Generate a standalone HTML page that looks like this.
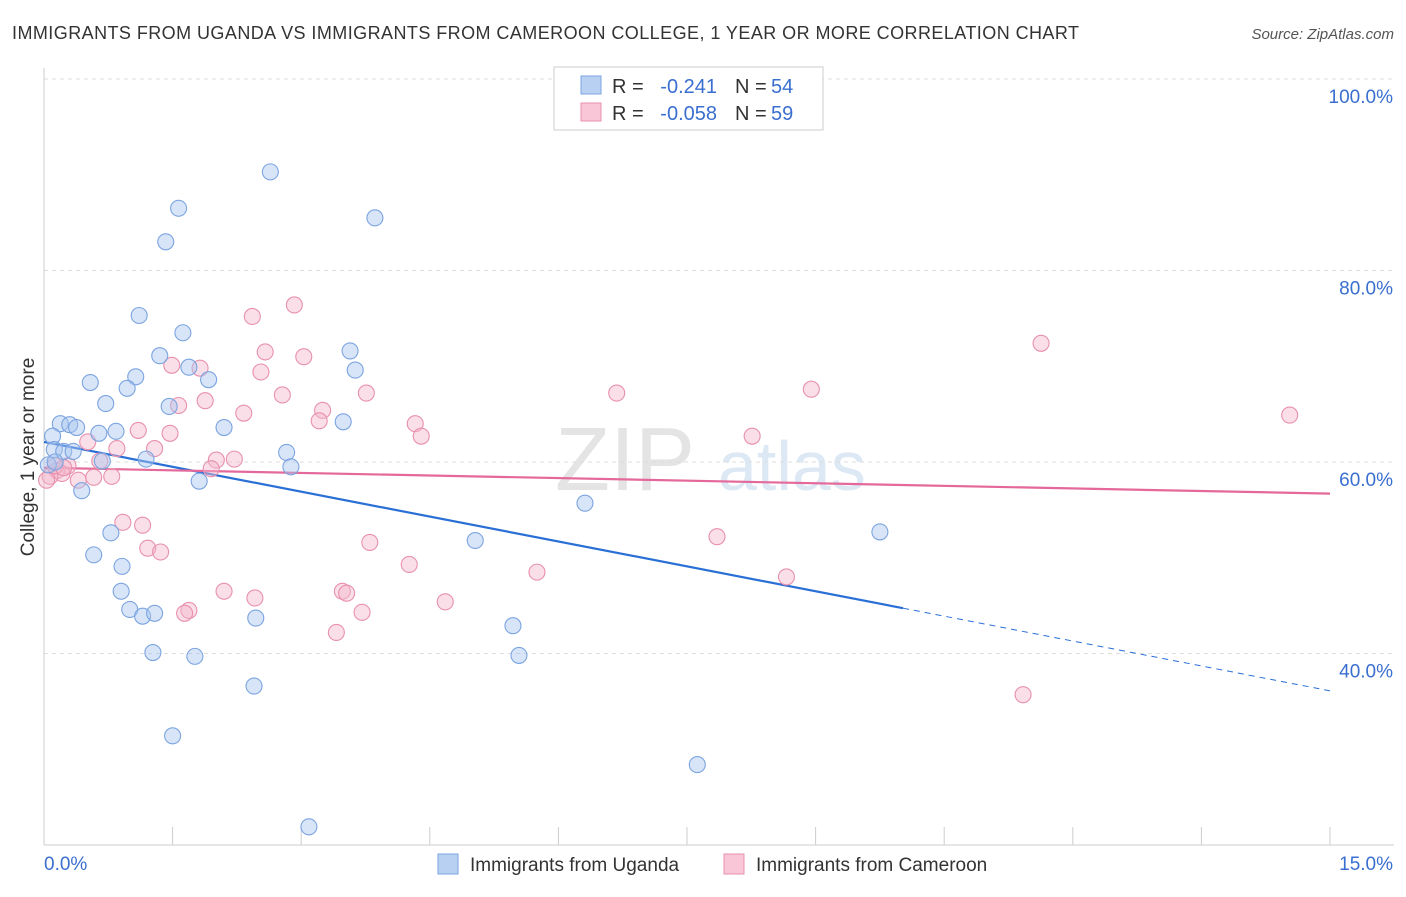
<!DOCTYPE html>
<html><head><meta charset="utf-8">
<style>
body{margin:0;background:#fff;font-family:"Liberation Sans",sans-serif;}
svg text{font-family:"Liberation Sans",sans-serif;}
</style></head>
<body>
<svg id="chart" width="1406" height="892" xmlns="http://www.w3.org/2000/svg">
<text x="12" y="39" font-size="18" fill="#333" textLength="1067" lengthAdjust="spacing">IMMIGRANTS FROM UGANDA VS IMMIGRANTS FROM CAMEROON COLLEGE, 1 YEAR OR MORE CORRELATION CHART</text>
<text x="1394" y="39" font-size="15" fill="#555" text-anchor="end" font-style="italic">Source: ZipAtlas.com</text>
<g>
<text x="555" y="490" font-size="90" fill="#e4e4e4" font-family="Liberation Serif">ZIP</text>
<text x="718" y="490" font-size="70" fill="#dde8f5">atlas</text>
</g>
<text transform="translate(34,457) rotate(-90)" font-size="19" fill="#333" text-anchor="middle">College, 1 year or more</text>
<g id="grid"></g><g id="axes"></g><g id="trends"></g><g id="points"></g>
<g>
<rect x="554" y="67" width="269" height="63" fill="#fff" stroke="#ccc"/>
<rect x="581" y="76" width="20" height="18" fill="#b8d1f3" stroke="#7ba4e0"/>
<rect x="581" y="103" width="20" height="18" fill="#f8c6d6" stroke="#e890ad"/>
<text x="612" y="93" font-size="20" fill="#333">R =</text>
<text x="717" y="93" font-size="20" fill="#3a6fd0" text-anchor="end">-0.241</text>
<text x="735" y="93" font-size="20" fill="#333">N =</text>
<text x="771" y="93" font-size="20" fill="#3a6fd0">54</text>
<text x="612" y="120" font-size="20" fill="#333">R =</text>
<text x="717" y="120" font-size="20" fill="#3a6fd0" text-anchor="end">-0.058</text>
<text x="735" y="120" font-size="20" fill="#333">N =</text>
<text x="771" y="120" font-size="20" fill="#3a6fd0">59</text>
</g>
<g>
<rect x="438" y="854" width="20" height="20" fill="#b8d1f3" stroke="#7ba4e0"/>
<text x="470" y="871" font-size="19" fill="#333">Immigrants from Uganda</text>
<rect x="724" y="854" width="20" height="20" fill="#f8c6d6" stroke="#e890ad"/>
<text x="756" y="871" font-size="19" fill="#333">Immigrants from Cameroon</text>
</g>
</svg>
<script>
const xTicks=[0,1.5,3,4.5,6,7.5,9,10.5,12,13.5,15];
const yTicks=[40,60,80,100];
const ugandaX=[2.64,1.57,3.86,1.42,1.11,1.62,1.35,3.57,1.69,3.63,1.07,1.92,0.54,0.97,0.72,1.46,3.49,0.19,0.30,0.38,0.84,0.64,2.10,0.10,0.12,0.23,0.34,1.19,0.68,2.83,2.88,1.81,0.44,6.31,0.78,9.75,5.03,0.58,0.91,0.90,1.00,1.15,1.29,2.47,5.47,1.27,1.76,5.54,2.45,1.50,7.62,3.09,0.05,0.13];
const ugandaY=[90.3,86.5,85.5,83.0,75.3,73.5,71.1,71.6,69.9,69.6,68.9,68.6,68.3,67.7,66.1,65.8,64.2,64.0,63.9,63.6,63.2,63.0,63.6,62.7,61.3,61.1,61.1,60.3,60.1,61.0,59.5,58.0,57.0,55.7,52.6,52.7,51.8,50.3,49.1,46.5,44.6,43.9,44.2,43.7,42.9,40.1,39.7,39.8,36.6,31.4,28.4,21.9,59.7,60.0];
const cameroonX=[2.92,2.43,11.63,2.58,3.03,1.49,1.82,2.53,3.76,6.68,8.95,2.78,1.88,1.57,2.33,3.25,3.21,14.53,4.33,4.40,8.26,1.47,1.10,0.51,0.85,1.29,2.01,2.22,1.95,0.65,0.28,0.15,0.21,0.40,0.58,0.79,0.07,0.92,1.15,1.21,1.36,7.85,3.80,4.26,5.75,8.66,2.10,2.46,3.48,3.53,1.69,1.64,3.71,4.68,3.41,11.42,0.13,0.23,0.03];
const cameroonY=[76.4,75.2,72.4,71.5,71.0,70.1,69.8,69.4,67.2,67.2,67.6,67.0,66.4,65.9,65.1,65.4,64.3,64.9,64.0,62.7,62.7,63.0,63.3,62.1,61.4,61.4,60.2,60.3,59.3,60.1,59.6,59.1,58.8,58.1,58.4,58.5,58.5,53.7,53.4,51.0,50.6,52.2,51.6,49.3,48.5,48.0,46.5,45.8,46.5,46.3,44.5,44.2,44.3,45.4,42.2,35.7,59.6,59.4,58.1];
const ugandaTrend=[62.1,36.1];
const cameroonTrend=[59.4,56.7];
const ugandaSolidEnd=10.02;

const X0=44,X1=1330,Y0=845,Ytop=79;
function sx(v){return X0+(v/15)*(X1-X0);}
function sy(v){return Y0-(v-20)/80*(Y0-Ytop);}
const NS="http://www.w3.org/2000/svg";
function mk(tag,attrs,parent){const e=document.createElementNS(NS,tag);for(const k in attrs)e.setAttribute(k,attrs[k]);parent.appendChild(e);return e;}
const grid=document.getElementById('grid'),axes=document.getElementById('axes'),trends=document.getElementById('trends'),pts=document.getElementById('points');
yTicks.forEach(t=>{
 const l=mk('line',{x1:X0,x2:1394,y1:sy(t),y2:sy(t),stroke:'#ddd','stroke-dasharray':'4,4'},grid);
 
 
 const tx=mk('text',{x:1393,y:sy(t)+24,'font-size':19,fill:'#3a6fd0','text-anchor':'end'},grid);
 tx.textContent=t.toFixed(1)+'%';
 
 
});
const xa=mk('line',{x1:X0,x2:1394,y1:Y0,y2:Y0,stroke:'#ccc'},axes);


const ya=mk('line',{x1:X0,x2:X0,y1:68,y2:Y0,stroke:'#ccc'},axes);


xTicks.forEach(t=>{
 const l=mk('line',{x1:sx(t),x2:sx(t),y1:Y0,y2:Y0-18,stroke:'#ccc'},axes);
 
 
});
[[0,'start'],[15,'end']].forEach(([t,a])=>{
 const tx=mk('text',{x:t==0?44:1393,y:870,'font-size':19,fill:'#3a6fd0','text-anchor':a},axes);
 tx.textContent=t.toFixed(1)+'%';
 
 
});
function pointsFor(xs,ys,fill,stroke,name){
 xs.forEach((x,i)=>{
  const c=mk('circle',{cx:sx(x),cy:sy(ys[i]),r:8,fill:fill,'fill-opacity':0.45,stroke:stroke,'stroke-width':1.1},pts);
  
  
 });
}
pointsFor(cameroonX,cameroonY,'#f4b8cb','#e890ad','cameroon-point');
pointsFor(ugandaX,ugandaY,'#a9c6f0','#7ba4e0','uganda-point');
function ty(tr,x){return tr[0]+(tr[1]-tr[0])*x/15;}
const b1=mk('line',{x1:sx(0),y1:sy(ty(ugandaTrend,0)),x2:sx(ugandaSolidEnd),y2:sy(ty(ugandaTrend,ugandaSolidEnd)),stroke:'#2a6fd6','stroke-width':2.2},trends);


const b2=mk('line',{x1:sx(ugandaSolidEnd),y1:sy(ty(ugandaTrend,ugandaSolidEnd)),x2:sx(15),y2:sy(ty(ugandaTrend,15)),stroke:'#2a6fd6','stroke-width':1,'stroke-dasharray':'6,5'},trends);


const p1=mk('line',{x1:sx(0),y1:sy(cameroonTrend[0]),x2:sx(15),y2:sy(cameroonTrend[1]),stroke:'#e4689a','stroke-width':2.2},trends);


</script>
</body></html>
